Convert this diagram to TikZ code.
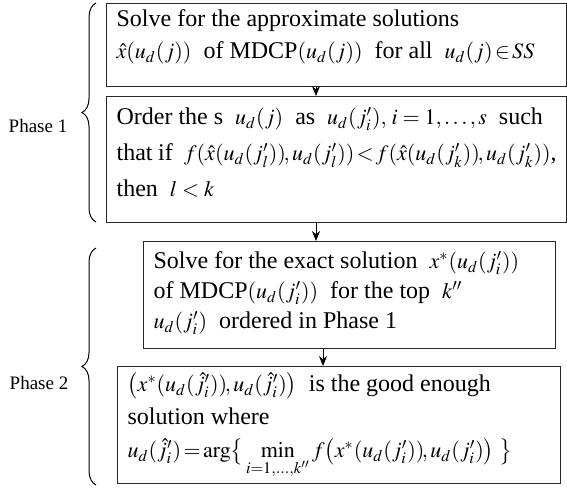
\documentclass[tikz,border=0pt]{standalone}
\usepackage{mathptmx}
\usepackage[no-math]{fontspec}
\setmainfont{Liberation Serif}
\usetikzlibrary{decorations.pathreplacing,arrows.meta}
\newcommand{\bxt}[4]{\parbox[c][#1][t]{#2}{\raggedright\fontsize{12}{#3}\selectfont #4}}
\newcommand{\smm}[1]{{\fontsize{11}{12}\selectfont$#1$}}
\tikzset{
  stepbox/.style={draw=black!85, line width=0.6pt, anchor=north west, inner xsep=5pt, inner ysep=3pt, align=left},
  arr/.style={-{Stealth[length=5pt,width=4pt]}, line width=0.5pt},
  brc/.style={decorate, decoration={brace, amplitude=7pt}, line width=0.5pt},
  lbl/.style={font=\fontsize{9.5}{12}\selectfont, inner sep=0pt}
}
\begin{document}
\begin{tikzpicture}[x=0.5pt,y=-0.5pt]
\useasboundingbox (0,0) rectangle (567,487);
\node[stepbox] (b1) at (106,3) {\bxt{35.5pt}{220pt}{16pt}{%
Solve for the approximate solutions\\
\smm{\hat{x}(u_d(j))}\ \ of MDCP\smm{(u_d(j))}\ \ for all\ \ \smm{u_d(j)\!\in\! SS}}};
\node[stepbox] (b2) at (106,96) {\bxt{57pt}{220pt}{18pt}{%
\rule{0pt}{11pt}Order the s\ \ \smm{u_d(j)}\ \ as\ \ \smm{u_d(j'_i),\, i=1,\dots,s}\ \ such\\
that if\ \ \smm{f(\hat{x}(u_d(j'_l))\!,u_d(j'_l))\!<\! f(\hat{x}(u_d(j'_k))\!,u_d(j'_k))},\\
then\ \ \smm{l<k}}};
\node[stepbox] (b3) at (143,241) {\bxt{47.5pt}{196pt}{15pt}{%
\rule{0pt}{10.5pt}Solve for the exact solution\ \ \smm{x^{*}(u_d(j'_i))}\\
of MDCP\smm{(u_d(j'_i))}\ \ for the top\ \ \smm{k''}\\
\smm{u_d(j'_i)}\ \ ordered in Phase 1}};
\node[stepbox] (b4) at (117,366) {\bxt{52.5pt}{211.5pt}{16.5pt}{%
\smm{\bigl(x^{*}(u_d(\hat{j}'_i))\!,u_d(\hat{j}'_i)\bigr)}\ \ is the good enough\\
solution where\\
\smm{u_d(\hat{j}'_i)\!=\!\arg\bigl\{\,\min\limits_{i=1,\dots,k''} f\bigl(x^{*}(u_d(j'_i))\!,u_d(j'_i)\bigr)\ \bigr\}}}};
\coordinate (c1) at (316,0);
\coordinate (c2) at (323,0);
\draw[arr] (b1.south -| c1) -- (b2.north -| c1);
\draw[arr] (b2.south -| c1) -- (b3.north -| c1);
\draw[arr] (b3.south -| c2) -- (b4.north -| c2);
\coordinate (p1a) at (96,222);
\coordinate (p1b) at (96,3);
\coordinate (p2a) at (96,485);
\coordinate (p2b) at (96,248);
\draw[brc] (p1a) -- (p1b);
\draw[brc] (p2a) -- (p2b);
\node[lbl] (l1) at (38,126) {Phase 1};
\node[lbl] (l2) at (39,383) {Phase 2};
\end{tikzpicture}
\end{document}
